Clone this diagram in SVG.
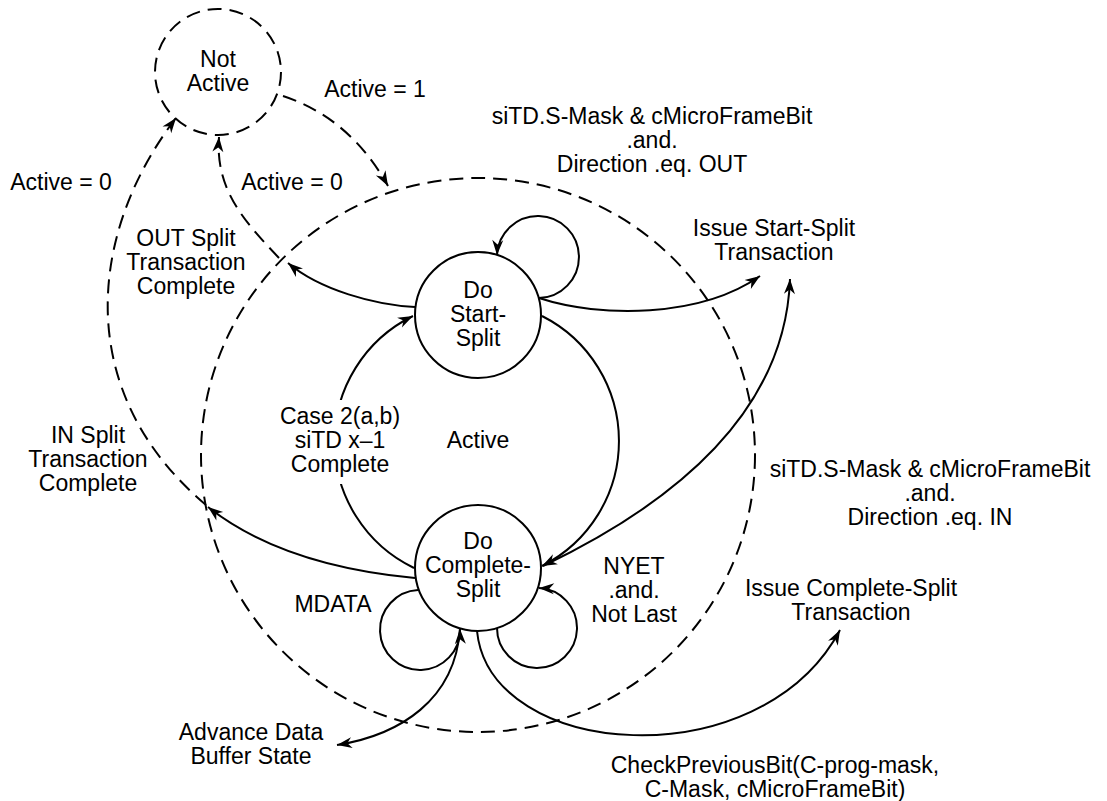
<svg xmlns="http://www.w3.org/2000/svg" width="1107" height="801" viewBox="0 0 1107 801">
<defs>
<style>
.t{font-family:"Liberation Sans",Arial,Helvetica,sans-serif;font-size:23px;fill:#000;text-anchor:middle}
.s{fill:none;stroke:#000;stroke-width:2}
.d{fill:none;stroke:#000;stroke-width:2;stroke-dasharray:14 8}
.n{fill:#fff;stroke:#000;stroke-width:2}
</style>
<marker id="ah" viewBox="-16 -6 18 12" refX="0" refY="0" markerWidth="18" markerHeight="12" markerUnits="userSpaceOnUse" orient="auto">
<path d="M0,0 L-15,-5.5 L-10.5,0 L-15,5.5 Z" fill="#000"/>
</marker>
</defs>
<rect width="1107" height="801" fill="#fff"/>
<g id="active-state">
<circle class="d" cx="478" cy="455" r="277"/>
<text class="t" x="478" y="448">Active</text>
</g>
<g id="connectors">
<path class="d" d="M283,96 Q350,118 388,186" marker-end="url(#ah)"/>
<path class="d" d="M279,258 C245,222 215,190 219,137" marker-end="url(#ah)"/>
<path class="d" d="M206,505 C70,390 90,230 176,118" marker-end="url(#ah)"/>
<path class="s" d="M415,307 C375,305 320,290 288,263" marker-end="url(#ah)"/>
<path class="s" d="M415,578 C330,570 260,548 208,507" marker-end="url(#ah)"/>
<path class="s" d="M414,568 A140 140 0 0 1 413,316" marker-end="url(#ah)"/>
<path class="s" d="M542,316 A140 140 0 0 1 542,566" marker-end="url(#ah)"/>
<path class="s" d="M539,298 A41 41 0 1 0 497,255" marker-end="url(#ah)"/>
<path class="s" d="M539,298 C600,318 700,318 760,276" marker-end="url(#ah)"/>
<path class="s" d="M543,566 C660,510 785,420 790,279" marker-end="url(#ah)"/>
<path class="s" d="M418,590 A40 40 0 1 0 460,629" marker-end="url(#ah)"/>
<path class="s" d="M497,628 A40 40 0 1 0 539,588" marker-end="url(#ah)"/>
<path class="s" d="M460,629 C455,700 400,735 337,745" marker-end="url(#ah)"/>
<path class="s" d="M477,631 C490,760 760,780 840,630" marker-end="url(#ah)"/>
</g>
<g id="labels">
<text class="t" x="375" y="97">Active = 1</text>
<text class="t" x="61" y="190">Active = 0</text>
<text class="t" x="292" y="190">Active = 0</text>
<text class="t" x="186" y="246">OUT Split</text>
<text class="t" x="186" y="270">Transaction</text>
<text class="t" x="186" y="294">Complete</text>
<text class="t" x="652" y="124">siTD.S-Mask &amp; cMicroFrameBit</text>
<text class="t" x="652" y="148">.and.</text>
<text class="t" x="652" y="172">Direction .eq. OUT</text>
<text class="t" x="774" y="236">Issue Start-Split</text>
<text class="t" x="774" y="260">Transaction</text>
<rect x="276" y="400" width="130" height="84" fill="#fff"/>
<text class="t" x="340" y="424">Case 2(a,b)</text>
<text class="t" x="340" y="448">siTD x–1</text>
<text class="t" x="340" y="472">Complete</text>
<text class="t" x="88" y="443">IN Split</text>
<text class="t" x="88" y="467">Transaction</text>
<text class="t" x="88" y="491">Complete</text>
<text class="t" x="930" y="477">siTD.S-Mask &amp; cMicroFrameBit</text>
<text class="t" x="930" y="501">.and.</text>
<text class="t" x="930" y="525">Direction .eq. IN</text>
<text class="t" x="634" y="574">NYET</text>
<text class="t" x="634" y="598">.and.</text>
<text class="t" x="634" y="622">Not Last</text>
<text class="t" x="333" y="612">MDATA</text>
<text class="t" x="851" y="596">Issue Complete-Split</text>
<text class="t" x="851" y="620">Transaction</text>
<text class="t" x="251" y="740">Advance Data</text>
<text class="t" x="251" y="764">Buffer State</text>
<text class="t" x="775" y="773">CheckPreviousBit(C-prog-mask,</text>
<text class="t" x="775" y="797">C-Mask, cMicroFrameBit)</text>
</g>
<g id="not-active">
<circle class="d" cx="218" cy="72" r="63"/>
<text class="t" x="218" y="67">Not</text>
<text class="t" x="218" y="91">Active</text>
</g>
<g id="do-start-split">
<circle class="n" cx="478" cy="315" r="63"/>
<text class="t" x="478" y="298">Do</text>
<text class="t" x="478" y="322">Start-</text>
<text class="t" x="478" y="346">Split</text>
</g>
<g id="do-complete-split">
<circle class="n" cx="478" cy="568" r="63"/>
<text class="t" x="478" y="549">Do</text>
<text class="t" x="478" y="573">Complete-</text>
<text class="t" x="478" y="597">Split</text>
</g>
</svg>
